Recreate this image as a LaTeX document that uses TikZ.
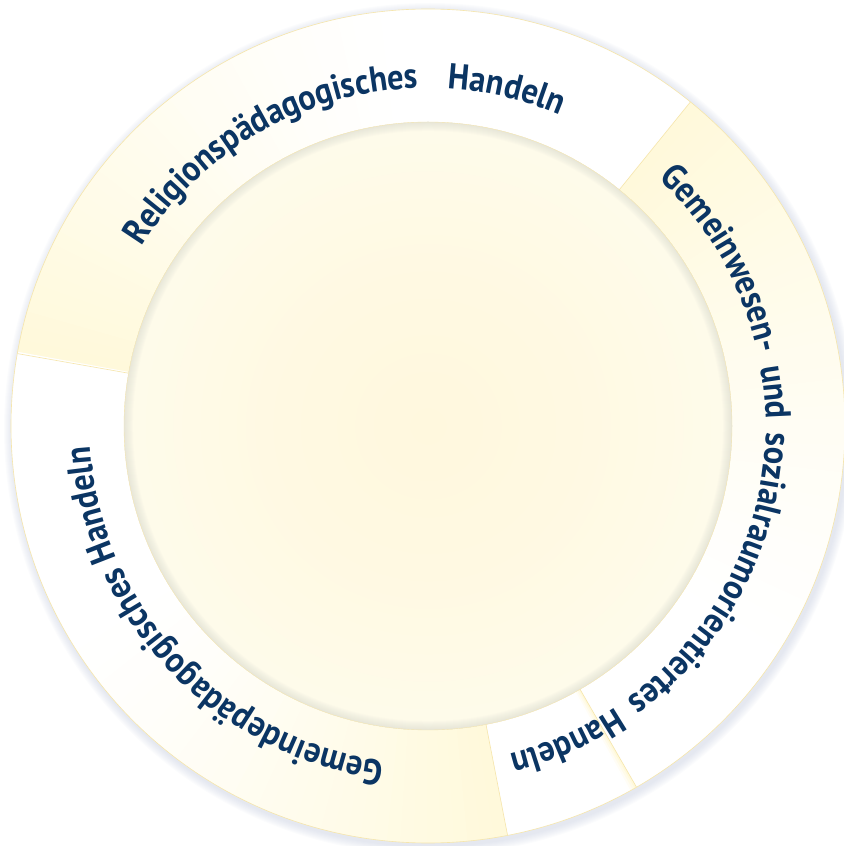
\documentclass[tikz,border=0pt]{standalone}
\usepackage{fontspec}
\usepackage{xcolor}
\usepackage{tikz}
\usetikzlibrary{calc}
\usetikzlibrary{decorations.text}
\newfontfamily\ringfont{PT Sans}[FakeStretch=0.9]
\definecolor{txtblue}{RGB}{11,53,99}
\definecolor{ringyellow}{RGB}{255,249,219}
\definecolor{seamyellow}{RGB}{246,230,172}
\definecolor{discyellow}{RGB}{255,248,222}
\definecolor{discpale}{RGB}{254,253,242}
\definecolor{rimgrey}{RGB}{188,190,188}
\definecolor{shadowblue}{RGB}{185,194,216}
\newcommand{\ringtext}{\ringfont\bfseries\fontsize{20.5pt}{24pt}\selectfont}
\pgfdeclareradialshading{discglow}{\pgfpoint{0bp}{0bp}}{%
  color(0bp)=(discyellow);
  color(12bp)=(discyellow!80!discpale);
  color(36bp)=(discpale);
  color(50bp)=(discpale)}
\tikzset{
  seam/.style={seamyellow,line width=0.35pt},
  ringlabel/.style={decorate,decoration={text along path,
      text={|\ringtext|#1},text color=txtblue,
      text align={fit to path stretching spaces}}},
  ringlabelc/.style={decorate,decoration={text along path,
      text={|\ringtext|#1},text color=txtblue,text align=center}}
}
% one ring segment, clockwise from #1 to #2, yellow fading out over #3 degrees
\newcommand{\ringpiece}[3]{%
  \foreach \k in {0,...,59}{
    \pgfmathsetmacro{\aa}{#1-(#1-(#2))*\k/60}
    \pgfmathsetmacro{\bb}{#1-(#1-(#2))*(\k+1)/60-0.25}
    \pgfmathsetmacro{\pp}{100*max(0,1-(#1-\aa)/#3)^1.3}
    \fill[ringyellow!\pp!white] ($(C)+(\aa:\ro)$) arc[start angle=\aa,end angle=\bb,radius=\ro]
      -- ($(C)+(\bb:\ri)$) arc[start angle=\bb,end angle=\aa,radius=\ri] -- cycle;
  }}
\def\ro{417}
\def\ri{304}
\def\rt{338}

\begin{document}
\begin{tikzpicture}[x=0.02cm,y=0.02cm]
	\useasboundingbox (0,0) rectangle (844,846);
	\coordinate (C) at (428,420);
	% soft shadow
	\foreach \s in {1,...,9}
		\fill[shadowblue,opacity=0.05] ($(C)+(2,-3)$) circle[radius=\ro+\s];
	% ring
	\ringpiece{170}{51}{75}
	\ringpiece{51}{-60}{85}
	\ringpiece{-60}{-79}{1}
	\ringpiece{-79}{-190}{70}
	\draw[seam] (C) circle[radius=\ro];
	\foreach \a in {170,51,-60,-79}
		\draw[seam] ($(C)+(\a:\ri)$) -- ($(C)+(\a:\ro)$);
	% centre disc with a soft rim
	\shade[shading=discglow] (C) circle[radius=\ri];
	\begin{scope}
		\clip (C) circle[radius=\ri];
		\foreach \s in {1,...,9}
			\draw[rimgrey,opacity=0.035,line width=\s*1.13pt] (C) circle[radius=\ri];
	\end{scope}
	\draw[seam,line width=0.2pt] (C) circle[radius=\ri];
	% labels
	\path[ringlabel={Religionspädagogisches Handeln}]
		($(C)+(148:\rt)$) arc[start angle=148,end angle=67,radius=\rt];
	\path[ringlabel={Gemeinwesen- und sozialraumorientiertes Handeln}]
		($(C)+(47:\rt)$) arc[start angle=47,end angle=-76,radius=\rt];
	\path[ringlabelc={Gemeindepädagogisches Handeln}]
		($(C)+(-92:\rt)$) arc[start angle=-92,end angle=-182,radius=\rt];
\end{tikzpicture}
\end{document}
